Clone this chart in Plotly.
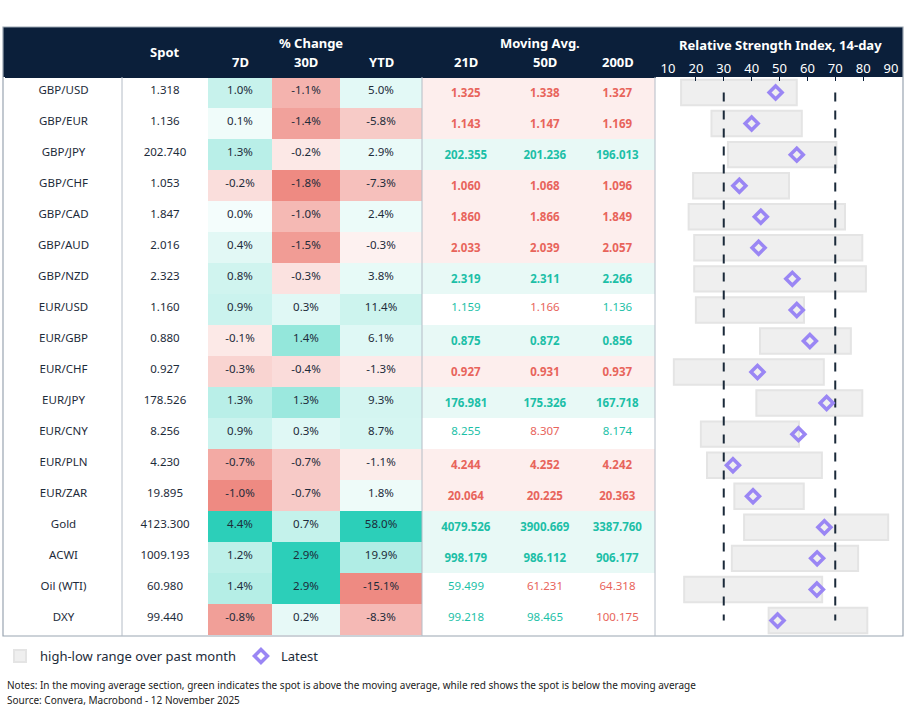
import plotly.graph_objects as go

# ---- data ----
names = ["GBP/USD", "GBP/EUR", "GBP/JPY", "GBP/CHF", "GBP/CAD", "GBP/AUD", "GBP/NZD",
         "EUR/USD", "EUR/GBP", "EUR/CHF", "EUR/JPY", "EUR/CNY", "EUR/PLN", "EUR/ZAR",
         "Gold", "ACWI", "Oil (WTI)", "DXY"]
spot = [1.318, 1.136, 202.740, 1.053, 1.847, 2.016, 2.323, 1.160, 0.880, 0.927, 178.526,
        8.256, 4.230, 19.895, 4123.300, 1009.193, 60.980, 99.440]
chg_7d = [1.0, 0.1, 1.3, -0.2, 0.0, 0.4, 0.8, 0.9, -0.1, -0.3, 1.3, 0.9, -0.7, -1.0, 4.4, 1.2, 1.4, -0.8]
chg_30d = [-1.1, -1.4, -0.2, -1.8, -1.0, -1.5, -0.3, 0.3, 1.4, -0.4, 1.3, 0.3, -0.7, -0.7, 0.7, 2.9, 2.9, 0.2]
chg_ytd = [5.0, -5.8, 2.9, -7.3, 2.4, -0.3, 3.8, 11.4, 6.1, -1.3, 9.3, 8.7, -1.1, 1.8, 58.0, 19.9, -15.1, -8.3]
ma_21 = [1.325, 1.143, 202.355, 1.060, 1.860, 2.033, 2.319, 1.159, 0.875, 0.927, 176.981,
         8.255, 4.244, 20.064, 4079.526, 998.179, 59.499, 99.218]
ma_50 = [1.338, 1.147, 201.236, 1.068, 1.866, 2.039, 2.311, 1.166, 0.872, 0.931, 175.326,
         8.307, 4.252, 20.225, 3900.669, 986.112, 61.231, 98.465]
ma_200 = [1.327, 1.169, 196.013, 1.096, 1.849, 2.057, 2.266, 1.136, 0.856, 0.937, 167.718,
          8.174, 4.242, 20.363, 3387.760, 906.177, 64.318, 100.175]
rsi_low = [14.7, 25.6, 31.5, 19.0, 17.4, 19.4, 19.4, 20.0, 43.0, 12.1, 41.7, 21.8, 24.0, 33.8, 37.3, 32.9, 15.8, 46.1]
rsi_high = [56.2, 58.0, 70.4, 53.4, 73.5, 79.7, 81.0, 58.8, 75.6, 65.9, 79.7, 57.0, 65.2, 58.7, 89.0, 78.2, 65.3, 81.5]
rsi_latest = [48.6, 40.0, 56.2, 35.6, 43.3, 42.5, 54.6, 56.2, 60.9, 42.1, 66.9, 56.8, 33.3, 40.5, 66.1, 63.5, 63.4, 49.3]
rsi_levels = [30, 70]
rsi_ticks = [10, 20, 30, 40, 50, 60, 70, 80, 90]

# header labels
col_widths = [117, 86, 64, 68, 82, 88, 70, 75]
sub_headers = ["", "", "7D", "30D", "YTD", "21D", "50D", "200D"]
group_headers = [("Spot", 165, 52), ("% Change", 311, 43), ("Moving Avg.", 540, 43)]

NAVY = "#0b1f3a"
TEXT = "#1d2b3a"
GREEN = (44, 207, 185)
RED = (238, 138, 130)
GREEN_TXT = "#1cbfa7"
RED_TXT = "#e8645b"
W, H = 905, 709
TOP, HEAD, BOT = 27, 77, 636


def mix(rgb, t):
    t = max(0.0, min(1.0, t))
    r, g, b = (round(255 - (255 - c) * t) for c in rgb)
    return f"rgb({r},{g},{b})"


def pct_fills(col):
    hi = max(col)
    lo = min(col)
    out = []
    for v in col:
        if v >= 0:
            out.append(mix(GREEN, 0.05 + 0.95 * v / hi))
        else:
            out.append(mix(RED, 0.1 + 0.9 * v / lo))
    return out


# moving average cells: shaded + bold when spot is on the same side of all three
ma_cols = [ma_21, ma_50, ma_200]
ma_text = [[], [], []]
ma_font = [[], [], []]
ma_fill = []
for i, s in enumerate(spot):
    above = [s > m[i] for m in ma_cols]
    same = all(above) or not any(above)
    if same:
        ma_fill.append("#e8f9f6" if above[0] else "#fdeeed")
    else:
        ma_fill.append("white")
    for k, m in enumerate(ma_cols):
        txt = f"{m[i]:.3f}"
        ma_text[k].append(f"<b>{txt}</b>" if same else txt)
        ma_font[k].append(GREEN_TXT if above[k] else RED_TXT)

white = ["white"] * len(names)
fmt_pct = lambda col: [f"{v:.1f}%" for v in col]

fig = go.Figure()

fig.add_trace(go.Table(
    domain=dict(x=[5 / W, 655 / W], y=[0, 1 - TOP / H]),
    columnwidth=col_widths,
    header=dict(
        values=[""] * len(col_widths),
        fill_color=NAVY, line_color=NAVY, height=50,
        font=dict(color="white", size=11.5, family="Noto Sans"), align="center"),
    cells=dict(
        values=[names, [f"{v:.3f}" for v in spot], fmt_pct(chg_7d), fmt_pct(chg_30d), fmt_pct(chg_ytd),
                ma_text[0], ma_text[1], ma_text[2]],
        fill_color=[white, white, pct_fills(chg_7d), pct_fills(chg_30d), pct_fills(chg_ytd),
                    ma_fill, ma_fill, ma_fill],
        line_color="rgba(0,0,0,0)", height=31, align="center",
        font=dict(color=[TEXT, TEXT, TEXT, TEXT, TEXT] + ma_font, size=11.5, family="Noto Sans")),
))

fig.add_trace(go.Bar(
    y=names, x=[h - l for l, h in zip(rsi_low, rsi_high)], base=rsi_low, orientation="h",
    marker=dict(color="#efefef", line=dict(color="#e4e4e4", width=2)), width=0.82,
    name="high-low range over past month", xaxis="x", yaxis="y", hoverinfo="skip"))

for lv in rsi_levels:
    fig.add_trace(go.Scatter(
        x=[lv, lv], y=[names[0], names[-1]], mode="lines", showlegend=False,
        line=dict(color="#1b2a3a", width=2, dash="dash"), hoverinfo="skip"))

fig.add_trace(go.Scatter(
    x=rsi_latest, y=names, mode="markers", name="Latest",
    marker=dict(symbol="diamond-open", size=10, color="#9a86f4", line=dict(width=3.5, color="#9a86f4"))))


def label(text, x, y, size=13, color="white", xanchor="center"):
    return dict(text=text, xref="paper", yref="paper", x=x / W, y=1 - y / H, showarrow=False,
                xanchor=xanchor, yanchor="middle", font=dict(color=color, size=size))


# header annotations, placed over the table columns
annotations = []
x_left = 5
for h, w in zip(sub_headers, col_widths):
    if h:
        annotations.append(label(f"<b>{h}</b>", x_left + w / 2, 62))
    x_left += w
for txt, cx, cy in group_headers:
    annotations.append(label(f"<b>{txt}</b>", cx, cy))

annotations += [
    label("<b>Relative Strength Index, 14-day</b>", 780, 45),
    label("Notes: In the moving average section, green indicates the spot is above the moving average, "
          "while red shows the spot is below the moving average", 5, 685, 10, "#222222", "left"),
    label("Source: Convera, Macrobond - 12 November 2025", 5, 700, 10, "#222222", "left"),
]

sep = dict(color="#b4bcc6", width=1)
fig.update_layout(
    width=W, height=H, margin=dict(l=0, r=0, t=0, b=0, autoexpand=False),
    paper_bgcolor="white", plot_bgcolor="rgba(0,0,0,0)",
    font=dict(family="Noto Sans", color=TEXT, size=13),
    xaxis=dict(domain=[668 / W, 891 / W], range=[10, 90], side="top", tickvals=rsi_ticks,
               tickfont=dict(color="white", size=13), ticks="inside", ticklen=4, tickcolor=NAVY,
               showgrid=False, zeroline=False, showline=False, anchor="y", automargin=False),
    yaxis=dict(domain=[1 - BOT / H, 1 - HEAD / H], range=[17.5, -0.5], showticklabels=False,
               showgrid=False, zeroline=False, type="category", automargin=False),
    legend=dict(orientation="h", x=0.0, xanchor="left", y=1 - 656 / H, yanchor="middle",
                font=dict(size=13, color=TEXT)),
    shapes=[
        dict(type="rect", xref="paper", yref="paper", x0=3 / W, x1=903 / W, y0=1 - HEAD / H, y1=1 - TOP / H,
             fillcolor=NAVY, line_width=0, layer="below"),
        dict(type="rect", xref="paper", yref="paper", x0=0, x1=1, y0=0, y1=1 - BOT / H - 0.001,
             fillcolor="white", line_width=0, layer="above"),
        dict(type="rect", xref="paper", yref="paper", x0=3 / W, x1=903 / W, y0=1 - BOT / H,
             y1=1 - TOP / H, line=dict(color="#9aa5b1", width=1.2), layer="above"),
        dict(type="line", xref="paper", yref="paper", x0=122 / W, x1=122 / W, y0=1 - BOT / H, y1=1 - HEAD / H,
             line=sep),
        dict(type="line", xref="paper", yref="paper", x0=422 / W, x1=422 / W, y0=1 - BOT / H, y1=1 - HEAD / H,
             line=sep),
        dict(type="line", xref="paper", yref="paper", x0=655 / W, x1=655 / W, y0=1 - BOT / H, y1=1 - HEAD / H,
             line=sep),
    ],
    annotations=annotations,
)

fig.write_html("out.html", config={"displayModeBar": False, "responsive": False},
               post_script="document.body.style.margin='0';document.body.style.overflow='hidden';")
